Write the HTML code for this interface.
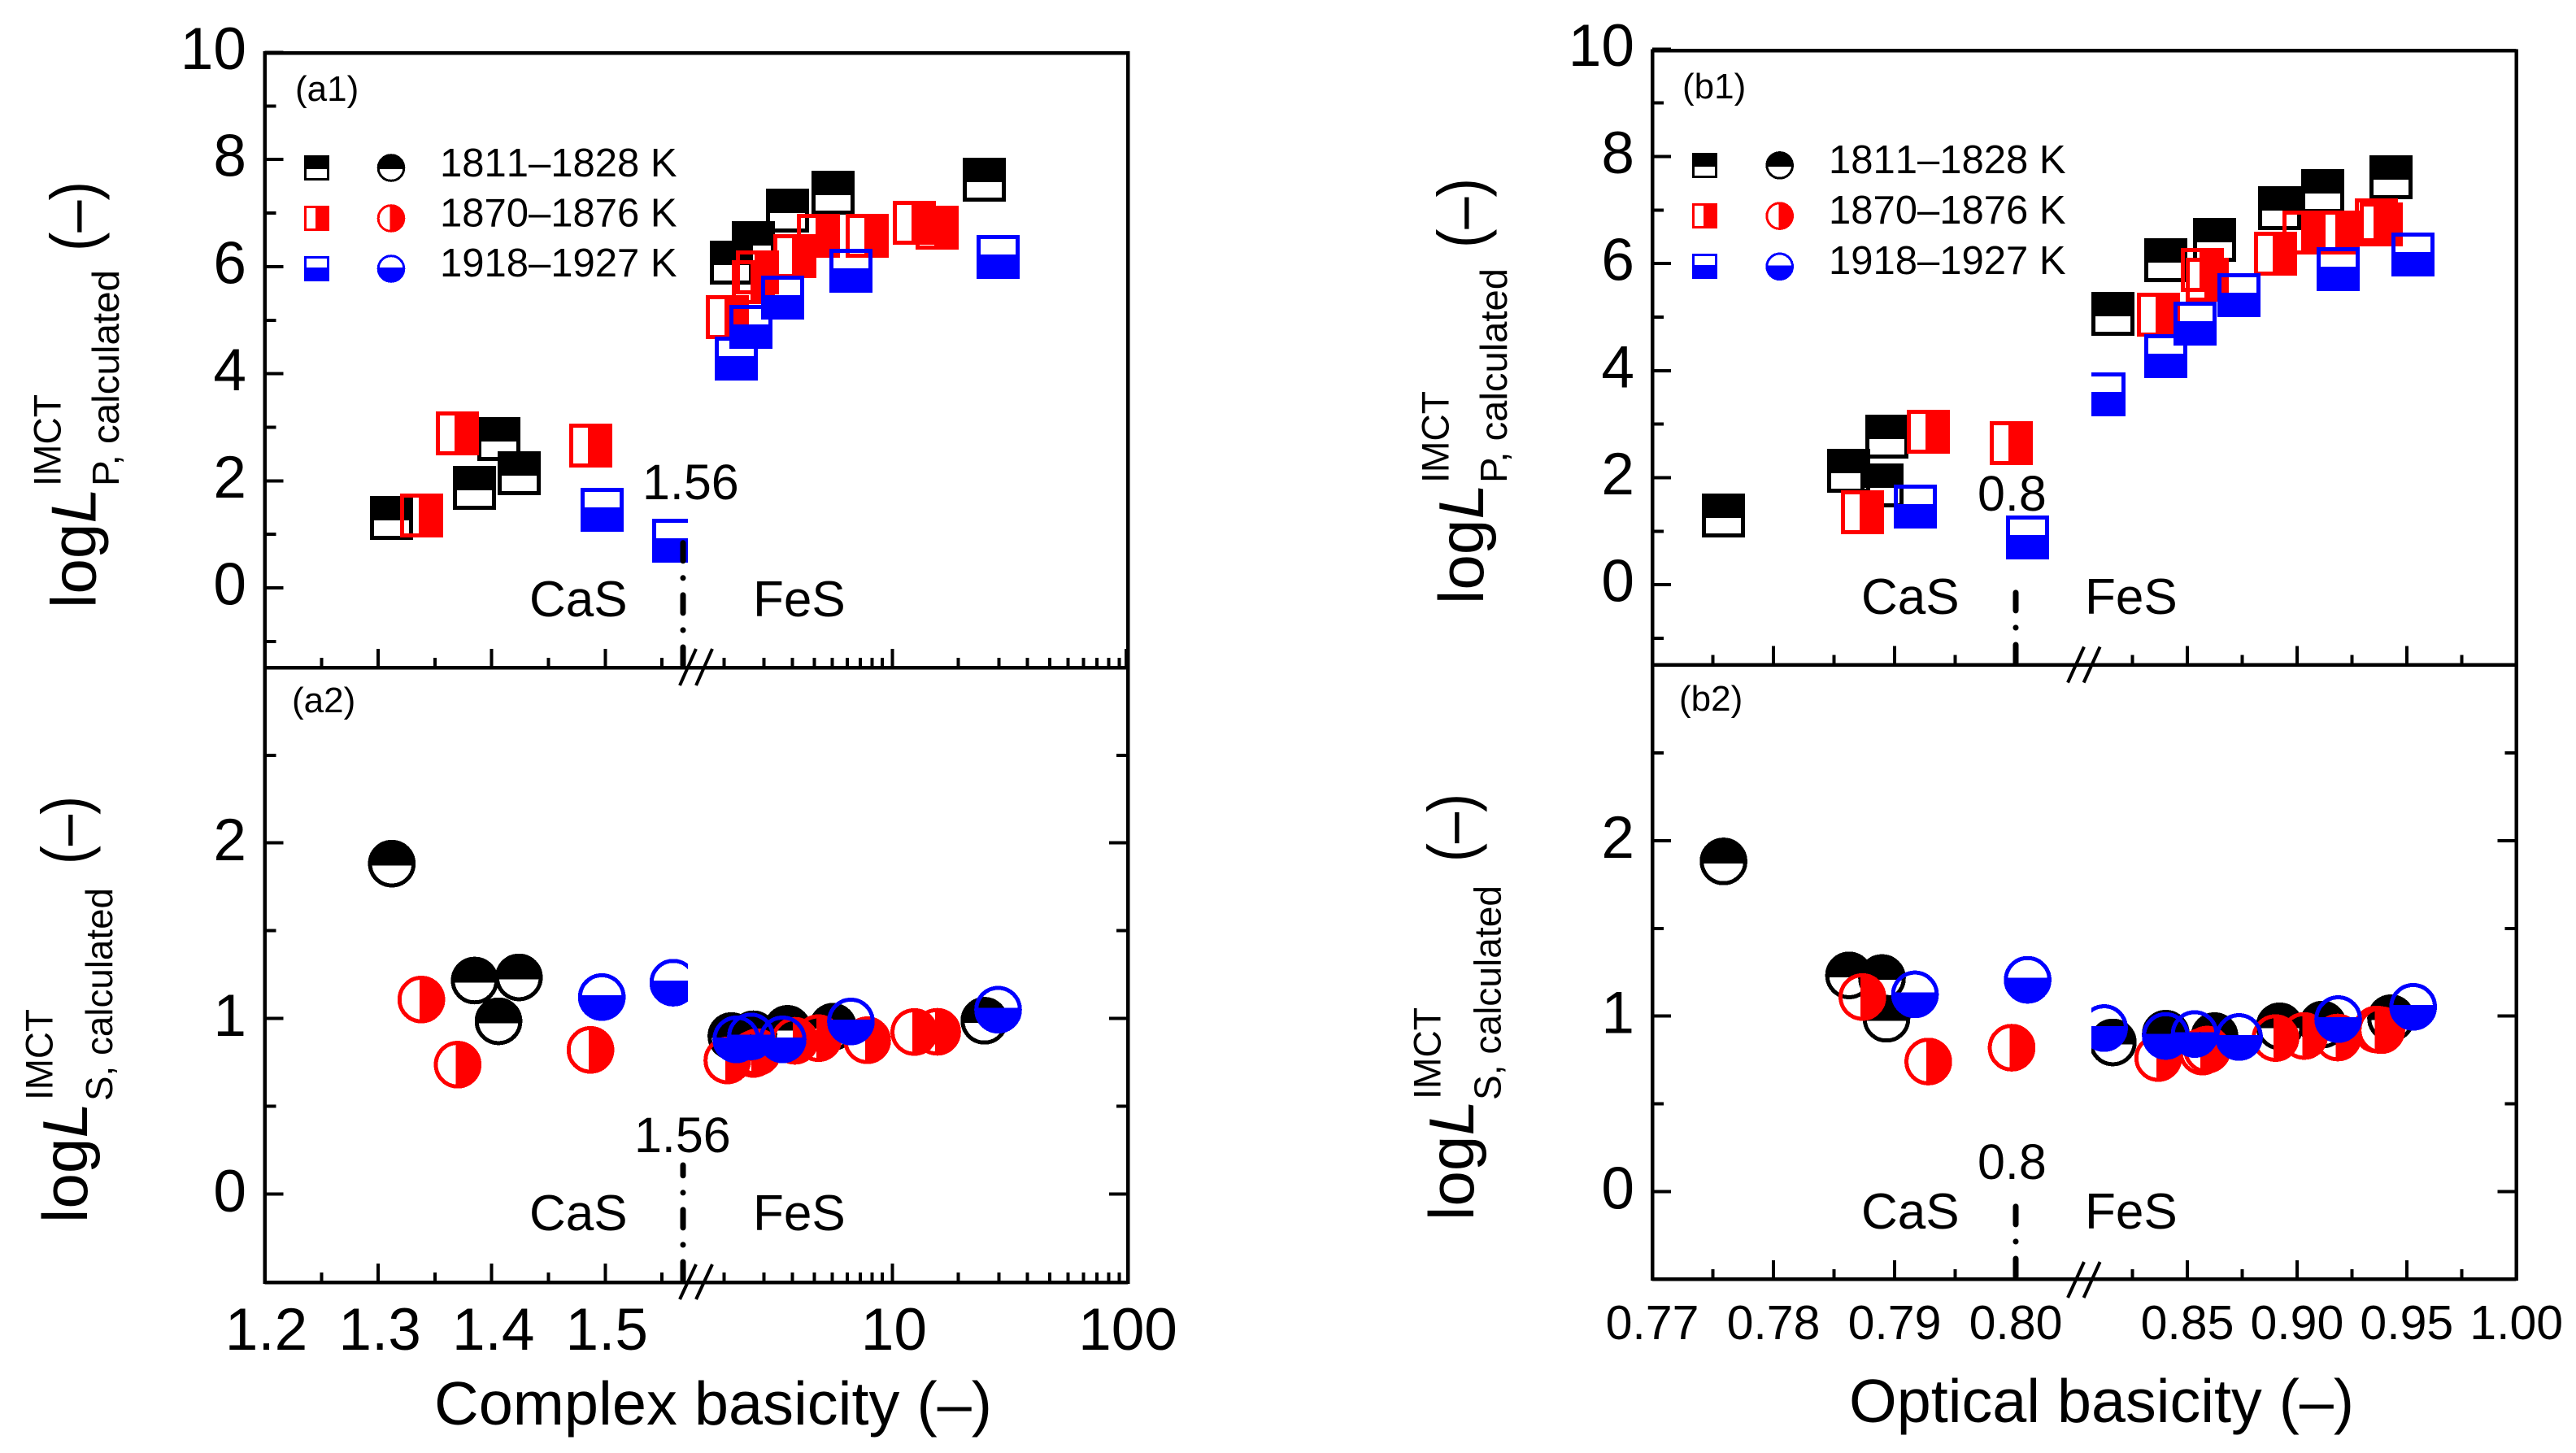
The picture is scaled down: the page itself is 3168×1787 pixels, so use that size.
<!DOCTYPE html>
<html lang="en">
<head>
<meta charset="utf-8">
<title>IMCT calculated phosphorus and sulfur distribution versus basicity</title>
<style>
html,body{margin:0;padding:0;background:#fff;}
svg{display:block;}
text{font-family:"Liberation Sans",sans-serif;fill:#000;}
.legend-text text{font-kerning:none;}
.panel-lines line,.panel-lines rect,.marks *{shape-rendering:crispEdges;}
</style>
</head>
<body>
<svg id="chart" xmlns="http://www.w3.org/2000/svg" width="3168" height="1787" viewBox="0 0 3168 1787">
<rect x="0" y="0" width="3168" height="1787" fill="#fff"/>
<g id="layer-marks" class="marks"></g>
<g id="layer-axes" class="panel-lines"></g>
<g id="layer-ticklabels"></g>

<!-- Y titles panel a -->
<g>
<text transform="translate(117.7,748) rotate(-90)" font-size="78" textLength="148" lengthAdjust="spacingAndGlyphs">log<tspan font-style="italic">L</tspan></text>
<text transform="translate(146,598) rotate(-90)" font-size="46" textLength="266" lengthAdjust="spacingAndGlyphs">P, calculated</text>
<text transform="translate(74.6,598) rotate(-90)" font-size="47" textLength="113" lengthAdjust="spacingAndGlyphs">IMCT</text>
<text transform="translate(118,309) rotate(-90)" font-size="80" textLength="86" lengthAdjust="spacingAndGlyphs">(–)</text>
</g>
<g>
<text transform="translate(106.8,1504) rotate(-90)" font-size="78" textLength="148" lengthAdjust="spacingAndGlyphs">log<tspan font-style="italic">L</tspan></text>
<text transform="translate(137.8,1354) rotate(-90)" font-size="46" textLength="262" lengthAdjust="spacingAndGlyphs">S, calculated</text>
<text transform="translate(64.3,1353) rotate(-90)" font-size="47" textLength="112" lengthAdjust="spacingAndGlyphs">IMCT</text>
<text transform="translate(106.8,1063) rotate(-90)" font-size="80" textLength="84" lengthAdjust="spacingAndGlyphs">(–)</text>
</g>
<!-- Y titles panel b -->
<g>
<text transform="translate(1824,743) rotate(-90)" font-size="78" textLength="148" lengthAdjust="spacingAndGlyphs">log<tspan font-style="italic">L</tspan></text>
<text transform="translate(1853,594) rotate(-90)" font-size="46" textLength="264" lengthAdjust="spacingAndGlyphs">P, calculated</text>
<text transform="translate(1781.6,594) rotate(-90)" font-size="47" textLength="113" lengthAdjust="spacingAndGlyphs">IMCT</text>
<text transform="translate(1824,305) rotate(-90)" font-size="80" textLength="86" lengthAdjust="spacingAndGlyphs">(–)</text>
</g>
<g>
<text transform="translate(1812,1501) rotate(-90)" font-size="78" textLength="148" lengthAdjust="spacingAndGlyphs">log<tspan font-style="italic">L</tspan></text>
<text transform="translate(1845.4,1353) rotate(-90)" font-size="46" textLength="264" lengthAdjust="spacingAndGlyphs">S, calculated</text>
<text transform="translate(1771.4,1352) rotate(-90)" font-size="47" textLength="113" lengthAdjust="spacingAndGlyphs">IMCT</text>
<text transform="translate(1812,1060) rotate(-90)" font-size="80" textLength="84" lengthAdjust="spacingAndGlyphs">(–)</text>
</g>

<!-- X titles -->
<text x="534" y="1752" font-size="75" textLength="686" lengthAdjust="spacingAndGlyphs">Complex basicity (–)</text>
<text x="2274" y="1749" font-size="75" textLength="621" lengthAdjust="spacingAndGlyphs">Optical basicity (–)</text>

<!-- Panel tags -->
<text x="363" y="124" font-size="44">(a1)</text>
<text x="359" y="876" font-size="44">(a2)</text>
<text x="2069" y="121" font-size="44">(b1)</text>
<text x="2065" y="874" font-size="44">(b2)</text>

<!-- Phase annotations -->
<g font-size="62">
<text x="651" y="758">CaS</text>
<text x="926" y="758">FeS</text>
<text x="651" y="1513">CaS</text>
<text x="926" y="1513">FeS</text>
<text x="2289" y="755">CaS</text>
<text x="2564" y="755">FeS</text>
<text x="2289" y="1511">CaS</text>
<text x="2564" y="1511">FeS</text>
</g>
<g font-size="61">
<text x="790" y="614">1.56</text>
<text x="780" y="1417">1.56</text>
<text x="2432" y="628">0.8</text>
<text x="2432" y="1450">0.8</text>
</g>

<!-- Legends text -->
<g font-size="49" class="legend-text">
<text x="541" y="217">1811–1828 K</text>
<text x="541" y="278.5">1870–1876 K</text>
<text x="541" y="340">1918–1927 K</text>
</g>
<g font-size="49" class="legend-text">
<text x="2249" y="213">1811–1828 K</text>
<text x="2249" y="275">1870–1876 K</text>
<text x="2249" y="337">1918–1927 K</text>
</g>
</svg>

<script>
// ---- Complex basicity data (panel a) ----
const aBlackBasicity = [1.312, 1.385, 1.406, 1.424, 2.066, 2.574, 3.622, 5.71, 25.97];
const aBlackLogLP    = [1.312, 1.863, 2.779, 2.147, 6.074, 6.439, 7.046, 7.38, 7.617];
const aBlackLogLS    = [1.882, 1.216, 0.984, 1.234, 0.9, 0.91, 0.941, 0.953, 0.987];
const aRedBasicity   = [1.338, 1.37, 1.487, 1.984, 2.574, 2.681, 3.898, 4.935, 8.04, 12.88, 16.19];
const aRedLogLP      = [1.358, 2.881, 2.654, 5.06, 5.71, 5.885, 6.203, 6.583, 6.583, 6.814, 6.735];
const aRedLogLS      = [1.108, 0.737, 0.821, 0.761, 0.798, 0.808, 0.873, 0.888, 0.876, 0.923, 0.924];
const aBlueBasicity  = [1.497, 1.56, 2.17, 2.512, 3.45, 6.83, 29.8];
const aBlueLogLP     = [1.465, 0.884, 4.275, 4.882, 5.429, 5.915, 6.181];
const aBlueLogLS     = [1.122, 1.204, 0.881, 0.898, 0.881, 0.983, 1.05];

// ---- Optical basicity data (panel b) ----
const bBlackBasicity = [0.77588, 0.78624, 0.78896, 0.78933, 0.81605, 0.84018, 0.86242, 0.8921, 0.91171, 0.94285];
const bBlackLogLP    = [1.3, 2.135, 1.856, 2.761, 5.062, 6.065, 6.436, 7.04, 7.358, 7.605];
const bBlackLogLS    = [1.882, 1.232, 1.217, 0.985, 0.85, 0.9, 0.886, 0.942, 0.952, 0.988];
const bRedBasicity   = [0.78734, 0.79278, 0.79966, 0.83673, 0.85689, 0.85908, 0.89018, 0.90326, 0.91857, 0.93621, 0.9384];
const bRedLogLP      = [1.35, 2.864, 2.642, 5.049, 5.877, 5.695, 6.188, 6.573, 6.573, 6.799, 6.724];
const bRedLogLS      = [1.109, 0.741, 0.82, 0.761, 0.798, 0.809, 0.875, 0.887, 0.878, 0.924, 0.92];
const bBlueBasicity  = [0.79168, 0.80098, 0.81205, 0.84018, 0.85334, 0.87357, 0.91876, 0.95293];
const bBlueLogLP     = [1.461, 0.881, 3.55, 4.263, 4.872, 5.415, 5.901, 6.168];
const bBlueLogLS     = [1.124, 1.207, 0.932, 0.887, 0.898, 0.881, 0.983, 1.053];

// ---- Tick values and labels ----
const upperMajorTicks = [0, 2, 4, 6, 8, 10];
const upperMinorTicks = [-1, 1, 3, 5, 7, 9];
const lowerMajorTicks = [0, 1, 2];
const lowerMinorTicks = [0.5, 1.5, 2.5];
const aLinearMajorTicks = [1.3, 1.4, 1.5];
const aLinearMinorTicks = [1.25, 1.35, 1.45, 1.55];
const aLinearLabels = ['1.2', '1.3', '1.4', '1.5'];
const aLinearLabelValues = [1.2, 1.3, 1.4, 1.5];
const aLogFirstDecadeTicks = [2, 3, 4, 5, 6, 7, 8, 9, 10];
const aLogSecondDecadeTicks = [20, 30, 40, 50, 60, 70, 80, 90, 100];
const aLogMajorTicks = [10, 100];
const aLogLowerMajorTicks = [10];
const aLogLabels = ['10', '100'];
const bLeftMajorTicks = [0.78, 0.79, 0.8];
const bLeftMinorTicks = [0.775, 0.785, 0.795];
const bRightMajorTicks = [0.85, 0.9, 0.95];
const bRightMinorTicks = [0.825, 0.875, 0.925, 0.975];
const bLeftLabelValues = [0.77, 0.78, 0.79, 0.8];
const bLeftLabels = ['0.77', '0.78', '0.79', '0.80'];
const bRightLabelValues = [0.85, 0.9, 0.95, 1];
const bRightLabels = ['0.85', '0.90', '0.95', '1.00'];

const SVGNS = 'http://www.w3.org/2000/svg';
function mk(tag, parent, attrs) {
  const e = document.createElementNS(SVGNS, tag);
  for (const k in attrs) e.setAttribute(k, attrs[k]);
  parent.appendChild(e);
  return e;
}
const marksLayer = document.getElementById('layer-marks');
const axesLayer = document.getElementById('layer-axes');
const labelLayer = document.getElementById('layer-ticklabels');

// ---- Axis functions ----
const yA1 = v => 723 - 65.85 * v;
const yA2 = v => 1468.5 - 215.9 * v;
const yB1 = v => 719.2 - 65.85 * v;
const yB2 = v => 1465.4 - 215.7 * v;
const xALin = v => 325.5 + 1396 * (v - 1.2);
const xALog = v => 1093.3 + 283 * Math.log10(v / 10);
const xALogFirst = v => 1085 + 278 * Math.log10(v / 10);
const xALogMajor = v => 1097.4 + 287.6 * Math.log10(v / 10);
const xA = v => v < 1.7 ? xALin(v) : xALog(v);
const xBLeft = v => 2032 + 14900 * (v - 0.77);
const xBRight = v => 2690 + 2698 * (v - 0.85);
const xB = v => v < 0.81 ? xBLeft(v) : xBRight(v);

// ---- Clip paths for the axis break ----
const defs = mk('defs', marksLayer, {});
const clipA = mk('clipPath', defs, { id: 'clip-a-left' });
mk('rect', clipA, { x: 0, y: 0, width: 846, height: 1787 });
const clipB = mk('clipPath', defs, { id: 'clip-b-right' });
mk('rect', clipB, { x: 2572, y: 0, width: 596, height: 1787 });

// ---- Markers ----
const C_BLACK = '#000000', C_RED = '#ff0000', C_BLUE = '#0000ff';

function drawSquare(parent, cx, cy, w, h, sw, fillDepth, color, side, name) {
  const g = mk('g', parent, {});
  
  
  const x0 = Math.round(cx - w / 2), y0 = Math.round(cy - h / 2);
  const outline = mk('rect', g, { x: x0 + sw / 2, y: y0 + sw / 2, width: w - sw, height: h - sw, fill: 'none', stroke: color, 'stroke-width': sw });
  
  
  let fx = x0, fy = y0, fw = w, fh = h;
  if (side === 'top') fh = fillDepth;
  if (side === 'bottom') { fy = y0 + h - fillDepth; fh = fillDepth; }
  if (side === 'right') { fx = x0 + w - fillDepth; fw = fillDepth; }
  const half = mk('rect', g, { x: fx, y: fy, width: fw, height: fh, fill: color });
  
  
}

function drawCircle(parent, cx, cy, d, sw, color, side, name) {
  const g = mk('g', parent, {});
  
  
  const r = d / 2 - sw / 2;
  const outline = mk('circle', g, { cx: cx, cy: cy, r: r, fill: 'none', stroke: color, 'stroke-width': sw });
  
  
  const off = 0.04 * d, R = r, h = Math.sqrt(R * R - off * off);
  let p;
  if (side === 'top') p = `M${cx - h} ${cy + off}A${R} ${R} 0 1 1 ${cx + h} ${cy + off}Z`;
  if (side === 'bottom') p = `M${cx + h} ${cy - off}A${R} ${R} 0 1 1 ${cx - h} ${cy - off}Z`;
  if (side === 'right') p = `M${cx - off} ${cy - h}A${R} ${R} 0 1 1 ${cx - off} ${cy + h}Z`;
  const half = mk('path', g, { d: p, fill: color });
  
  
}

function drawSeries(xs, ys, xFn, yFn, color, side, shape, clipTest, clipId, name) {
  const group = mk('g', marksLayer, {});
  
  
  xs.forEach((xv, i) => {
    const holder = clipTest(xv) ? mk('g', group, { 'clip-path': `url(#${clipId})` }) : group;
    const cx = xFn(xv), cy = yFn(ys[i]);
    if (shape === 'square') drawSquare(holder, cx, cy, 53, 54, 5, 30, color, side, name + '-point');
    else drawCircle(holder, cx, cy, 58.6, 5, color, side, name + '-point');
  });
}

const nearBreakA = v => v >= 1.5 && v < 1.7;
const nearBreakB = v => v >= 0.81 && v < 0.82;

drawSeries(aBlackBasicity, aBlackLogLP, xA, yA1, C_BLACK, 'top', 'square', nearBreakA, 'clip-a-left', 'a1-series-1811-1828');
drawSeries(aRedBasicity, aRedLogLP, xA, yA1, C_RED, 'right', 'square', nearBreakA, 'clip-a-left', 'a1-series-1870-1876');
drawSeries(aBlueBasicity, aBlueLogLP, xA, yA1, C_BLUE, 'bottom', 'square', nearBreakA, 'clip-a-left', 'a1-series-1918-1927');
drawSeries(aBlackBasicity, aBlackLogLS, xA, yA2, C_BLACK, 'top', 'circle', nearBreakA, 'clip-a-left', 'a2-series-1811-1828');
drawSeries(aRedBasicity, aRedLogLS, xA, yA2, C_RED, 'right', 'circle', nearBreakA, 'clip-a-left', 'a2-series-1870-1876');
drawSeries(aBlueBasicity, aBlueLogLS, xA, yA2, C_BLUE, 'bottom', 'circle', nearBreakA, 'clip-a-left', 'a2-series-1918-1927');
drawSeries(bBlackBasicity, bBlackLogLP, xB, yB1, C_BLACK, 'top', 'square', nearBreakB, 'clip-b-right', 'b1-series-1811-1828');
drawSeries(bRedBasicity, bRedLogLP, xB, yB1, C_RED, 'right', 'square', nearBreakB, 'clip-b-right', 'b1-series-1870-1876');
drawSeries(bBlueBasicity, bBlueLogLP, xB, yB1, C_BLUE, 'bottom', 'square', nearBreakB, 'clip-b-right', 'b1-series-1918-1927');
drawSeries(bBlackBasicity, bBlackLogLS, xB, yB2, C_BLACK, 'top', 'circle', nearBreakB, 'clip-b-right', 'b2-series-1811-1828');
drawSeries(bRedBasicity, bRedLogLS, xB, yB2, C_RED, 'right', 'circle', nearBreakB, 'clip-b-right', 'b2-series-1870-1876');
drawSeries(bBlueBasicity, bBlueLogLS, xB, yB2, C_BLUE, 'bottom', 'circle', nearBreakB, 'clip-b-right', 'b2-series-1918-1927');

// ---- Legends ----
const legendColors = [C_BLACK, C_RED, C_BLUE];
const legendSides = ['top', 'right', 'bottom'];
const legendLayer = mk('g', marksLayer, {});


[[389, 481, [206.5, 268.5, 330.5]], [2096, 2188.7, [203.4, 265.6, 327.8]]].forEach(cfg => {
  cfg[2].forEach((ly, i) => {
    drawSquare(legendLayer, cfg[0], ly, 31, 31, 3, 17, legendColors[i], legendSides[i], 'legend-square');
    drawCircle(legendLayer, cfg[1], ly, 34.6, 3, legendColors[i], legendSides[i], 'legend-circle');
  });
});

// ---- Lines ----
function line(parent, x1, y1, x2, y2, w, name) {
  const l = mk('line', parent, { x1: x1, y1: y1, x2: x2, y2: y2, stroke: '#000', 'stroke-width': w });
  
  
  return l;
}

function frame(left, right, top, mid, bottom, prefix) {
  line(axesLayer, left, top - 2, left, bottom + 2, 4.5, prefix + '-left-spine');
  line(axesLayer, right, top - 2, right, bottom + 2, 4.5, prefix + '-right-spine');
  line(axesLayer, left, top, right, top, 4.5, prefix + '-top-spine');
  line(axesLayer, left, mid, right, mid, 4.5, prefix + '-divider');
  line(axesLayer, left, bottom, right, bottom, 4.5, prefix + '-bottom-spine');
}
frame(325.5, 1387, 65, 821, 1577, 'panel-a');
frame(2032, 3094.5, 62.3, 817.5, 1573, 'panel-b');

function yTicks(xEdge, dir, values, yFn, len, name) {
  values.forEach(v => {
    line(axesLayer, xEdge, yFn(v), xEdge + dir * len, yFn(v), 4, name);
  });
}
yTicks(325.5, 1, upperMajorTicks, yA1, 23, 'a1-y-major-tick');
yTicks(325.5, 1, upperMinorTicks, yA1, 14, 'a1-y-minor-tick');
yTicks(325.5, 1, lowerMajorTicks, yA2, 23, 'a2-y-major-tick');
yTicks(325.5, 1, lowerMinorTicks, yA2, 14, 'a2-y-minor-tick');
yTicks(1387, -1, lowerMajorTicks, yA2, 23, 'a2-y-right-major-tick');
yTicks(1387, -1, lowerMinorTicks, yA2, 14, 'a2-y-right-minor-tick');
yTicks(2032, 1, upperMajorTicks, yB1, 23, 'b1-y-major-tick');
yTicks(2032, 1, upperMinorTicks, yB1, 14, 'b1-y-minor-tick');
yTicks(2032, 1, lowerMajorTicks, yB2, 23, 'b2-y-major-tick');
yTicks(2032, 1, lowerMinorTicks, yB2, 14, 'b2-y-minor-tick');
yTicks(3094.5, -1, lowerMajorTicks, yB2, 23, 'b2-y-right-major-tick');
yTicks(3094.5, -1, lowerMinorTicks, yB2, 14, 'b2-y-right-minor-tick');

function xTicks(yEdge, values, xFn, len, name, w) {
  values.forEach(v => {
    line(axesLayer, xFn(v), yEdge, xFn(v), yEdge - len, w || 4, name);
  });
}
[821, 1577].forEach(edge => {
  xTicks(edge, aLinearMajorTicks, xALin, 23, 'a-x-major-tick');
  xTicks(edge, aLinearMinorTicks, xALin, 12, 'a-x-minor-tick');
  xTicks(edge, aLogFirstDecadeTicks, xALogFirst, 12, 'a-x-log-minor-tick');
  xTicks(edge, aLogSecondDecadeTicks, xALog, 12, 'a-x-log-minor-tick');
  xTicks(edge, edge === 821 ? aLogMajorTicks : aLogLowerMajorTicks, xALogMajor, 23, 'a-x-log-major-tick');
});
[817.5, 1573].forEach(edge => {
  xTicks(edge, bLeftMajorTicks, xBLeft, 23, 'b-x-major-tick');
  xTicks(edge, bLeftMinorTicks, xBLeft, 12, 'b-x-minor-tick');
  xTicks(edge, bRightMajorTicks, xBRight, 23, 'b-x-major-tick');
  xTicks(edge, bRightMinorTicks, xBRight, 12, 'b-x-minor-tick');
});

// ---- Axis-break slashes ----
function breakMarks(x0, gap, edge, dy1, dy2, dx, name) {
  [0, gap].forEach(off => {
    const l = line(axesLayer, x0 + off, edge + dy1, x0 + off + dx, edge - dy2, 4, name);
    l.style.shapeRendering = 'auto';
  });
}
breakMarks(836, 20, 821, 22, 23, 20, 'a1-axis-break');
breakMarks(836, 20, 1577, 21, 22, 20, 'a2-axis-break');
breakMarks(2543, 19.6, 817.5, 22, 22, 20, 'b1-axis-break');
breakMarks(2543, 19.6, 1573, 23, 21, 20, 'b2-axis-break');

// ---- Threshold dash-dot lines ----
function threshold(x, yBottom, yTop, name) {
  const l = line(axesLayer, x, yBottom, x, yTop, 7, name);
  l.setAttribute('stroke-linecap', 'round');
  l.setAttribute('stroke-dasharray', '22 21 0.1 21');
  l.style.shapeRendering = 'auto';
}
threshold(840, 818, 655, 'a1-threshold-line');
threshold(840, 1574, 1433, 'a2-threshold-line');
threshold(2479, 815, 712, 'b1-threshold-line');
threshold(2479, 1570, 1470, 'b2-threshold-line');

// ---- Tick labels ----
function label(x, y, str, size, anchor, name) {
  const t = mk('text', labelLayer, { x: x, y: y, 'font-size': size, 'text-anchor': anchor });
  
  
  t.textContent = str;
}
upperMajorTicks.forEach(v => {
  label(303, yA1(v) + 20.5, String(v), 73, 'end', 'a1-y-tick-label');
  label(2010, yB1(v) + 20.5, String(v), 73, 'end', 'b1-y-tick-label');
});
lowerMajorTicks.forEach(v => {
  label(303, yA2(v) + 21.5, String(v), 73, 'end', 'a2-y-tick-label');
  label(2010, yB2(v) + 21, String(v), 73, 'end', 'b2-y-tick-label');
});
aLinearLabelValues.forEach((v, i) => {
  label(xALin(v) + 2, 1660, aLinearLabels[i], 73, 'middle', 'a-x-tick-label');
});
aLogMajorTicks.forEach((v, i) => {
  label(xALogMajor(v) + 2, 1660, aLogLabels[i], 73, 'middle', 'a-x-tick-label');
});
bLeftLabelValues.forEach((v, i) => {
  label(xBLeft(v), 1647, bLeftLabels[i], 59, 'middle', 'b-x-tick-label');
});
bRightLabelValues.forEach((v, i) => {
  label(xBRight(v), 1647, bRightLabels[i], 59, 'middle', 'b-x-tick-label');
});
</script>
</body>
</html>
